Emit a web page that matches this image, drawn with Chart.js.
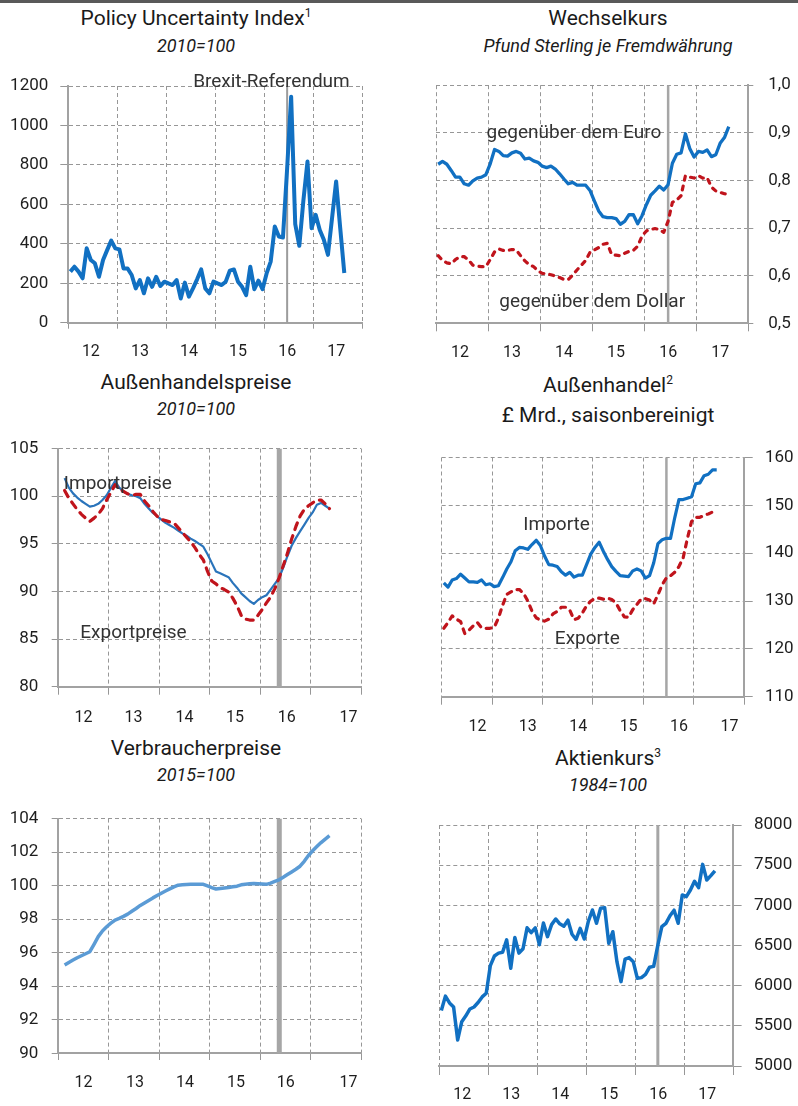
<!DOCTYPE html>
<html><head><meta charset="utf-8">
<script src="https://cdn.jsdelivr.net/npm/chart.js@4.4.1/dist/chart.umd.min.js"></script>
<style>
html,body{margin:0;padding:0;background:#fff;}
body{width:798px;height:1106px;position:relative;overflow:hidden;font-family:Roboto,"Noto Sans",sans-serif;color:#1a1a1a;}
.bar{position:absolute;left:0;top:0;width:798px;height:3px;background:#595959;}
.t{position:absolute;width:400px;text-align:center;white-space:nowrap;font-size:21px;line-height:21px;}
.s{position:absolute;width:400px;text-align:center;white-space:nowrap;font-size:18px;line-height:18px;font-style:italic;}
sup{font-size:12px;line-height:0;vertical-align:0;position:relative;top:-8px;}
canvas{position:absolute;}
</style></head><body>
<div class="bar"></div>
<div class="t" style="left:-4px;top:8px">Policy Uncertainty Index<sup>1</sup></div>
<div class="s" style="left:-4px;top:37px">2010=100</div>
<div class="t" style="left:408px;top:8px">Wechselkurs</div>
<div class="s" style="left:408px;top:37px">Pfund Sterling je Fremdwährung</div>
<div class="t" style="left:-4px;top:372px">Außenhandelspreise</div>
<div class="s" style="left:-4px;top:400px">2010=100</div>
<div class="t" style="left:408px;top:375px">Außenhandel<sup>2</sup></div>
<div class="t" style="left:408px;top:405px">£ Mrd., saisonbereinigt</div>
<div class="t" style="left:-4px;top:738px">Verbraucherpreise</div>
<div class="s" style="left:-4px;top:766px">2015=100</div>
<div class="t" style="left:408px;top:748px">Aktienkurs<sup>3</sup></div>
<div class="s" style="left:408px;top:776px">1984=100</div>
<canvas id="c1"></canvas><canvas id="c2"></canvas><canvas id="c3"></canvas>
<canvas id="c4"></canvas><canvas id="c5"></canvas><canvas id="c6"></canvas>
<script>
// ---------- data (monthly, Jan 2012 = month 0) ----------
const yearTicks = [2012, 2013, 2014, 2015, 2016, 2017, 2018];
const yearLabels = ['12', '13', '14', '15', '16', '17'];
const brexitDate = 2016.46;
const brexitDatePrices = 2016.38;

const policyUncertainty = [259,284,259,225,377,318,301,233,318,368,416,377,372,275,275,242,174,216,149,225,
  182,233,186,208,199,191,216,123,203,132,174,220,270,174,149,208,199,191,208,264,
  270,208,182,140,284,170,213,170,250,310,488,437,432,775,1146,500,390,621,817,479,
  547,470,420,344,530,716,480,252];
const policyStart = 0;

const gbpPerEuro = [0.834,0.840,0.834,0.821,0.807,0.807,0.793,0.790,0.799,0.805,0.807,0.812,0.835,0.865,0.861,0.852,0.851,0.858,0.861,0.857,
  0.845,0.847,0.841,0.838,0.830,0.827,0.830,0.824,0.814,0.803,0.793,0.796,0.790,0.790,0.790,0.779,0.757,0.736,0.724,0.722,
  0.722,0.720,0.708,0.714,0.728,0.728,0.709,0.726,0.749,0.769,0.778,0.788,0.780,0.791,0.836,0.855,0.858,0.898,0.867,0.849,
  0.861,0.859,0.864,0.850,0.854,0.878,0.890,0.913];
const gbpPerDollar = [0.642,0.632,0.627,0.625,0.634,0.640,0.640,0.633,0.622,0.620,0.619,0.619,0.634,0.650,0.656,0.653,0.653,0.655,0.654,0.642,
  0.631,0.623,0.619,0.610,0.605,0.604,0.602,0.599,0.596,0.592,0.592,0.601,0.612,0.622,0.632,0.649,0.654,0.659,0.666,0.668,
  0.644,0.643,0.642,0.647,0.651,0.653,0.662,0.683,0.694,0.697,0.699,0.697,0.691,0.714,0.754,0.759,0.768,0.810,0.807,0.805,
  0.810,0.805,0.806,0.786,0.778,0.775,0.772,0.771];
const fxStart = 0;

const importPrices = [101.9,100.9,100.3,99.86,99.5,99.2,98.9,99.0,99.2,99.6,100.1,100.85,101.6,100.9,100.5,100.25,100.1,100.0,99.8,99.2,
  98.7,98.25,97.9,97.55,97.2,96.95,96.7,96.4,96.1,95.85,95.55,95.3,95.0,94.7,93.9,93.0,92.1,91.9,91.7,91.5,
  90.9,90.4,89.8,89.4,89.0,88.7,89.1,89.4,89.6,90.2,90.8,91.4,92.5,93.7,94.8,95.6,96.3,97.0,97.7,98.3,
  99.1,99.3,99.0,98.7];
const exportPrices = [100.6,99.8,99.2,98.6,98.1,97.7,97.35,97.7,98.1,98.7,99.6,100.4,101.2,100.8,100.5,100.25,100.1,100.2,100.2,99.5,
  99.0,98.4,97.9,97.55,97.45,97.3,97.2,96.7,96.2,95.7,95.2,94.6,93.9,93.3,92.1,91.1,90.8,90.4,90.2,89.95,
  89.3,88.5,87.5,87.1,87.0,87.0,87.5,88.1,88.8,89.4,90.3,91.4,92.7,94.0,95.5,96.8,97.9,98.6,99.0,99.3,
  99.6,99.6,99.2,98.7];
const tradePricesStart = 1;

const importsBn = [133.8,132.9,134.4,134.7,135.6,134.8,134.0,134.0,133.9,134.4,133.4,133.6,133.0,133.2,134.9,136.7,138.2,140.5,141.2,141.1,
  140.8,141.8,142.7,141.6,139.4,137.6,137.5,137.2,136.1,135.4,136.0,135.0,135.4,135.4,137.6,139.8,141.2,142.3,140.4,138.7,
  137.2,136.2,135.3,135.2,135.1,136.3,136.7,136.3,134.8,135.3,138.0,142.0,142.8,143.1,143.1,147.4,151.2,151.2,151.5,151.8,
  154.5,154.7,156.2,156.5,157.4,157.4];
const exportsBn = [124.3,125.5,126.9,126.2,125.7,123.2,123.9,124.8,125.5,124.4,124.3,124.3,124.5,126.4,129.1,131.4,131.9,132.4,132.4,131.6,
  130.0,127.9,126.5,126.0,125.8,126.2,127.3,127.8,128.7,128.7,128.1,126.1,126.4,127.5,129.0,130.0,130.5,130.6,130.4,130.6,
  130.3,129.6,128.0,126.7,126.6,128.2,129.3,130.4,130.5,130.2,129.4,131.3,133.4,134.8,135.3,136.0,137.2,139.0,143.0,146.6,
  147.5,147.5,147.9,148.2,148.6,149.0];
const tradeStart = 0;

const consumerPrices = [95.27,95.42,95.56,95.7,95.82,95.94,96.06,96.5,96.96,97.3,97.55,97.76,97.95,98.05,98.17,98.3,98.47,98.64,98.82,98.97,
  99.12,99.27,99.41,99.55,99.68,99.81,99.93,100.03,100.05,100.07,100.08,100.08,100.08,100.08,99.98,99.88,99.8,99.83,99.86,99.89,
  99.93,99.97,100.05,100.09,100.11,100.13,100.12,100.1,100.08,100.15,100.25,100.35,100.5,100.66,100.82,100.98,101.16,101.45,101.8,102.08,
  102.33,102.57,102.78,102.98];
const cpiStart = 1;

const shareIndex = [5690,5870,5785,5735,5324,5552,5625,5710,5735,5790,5860,5905,6250,6370,6405,6415,6570,6216,6600,6405,
  6460,6720,6660,6720,6510,6780,6610,6760,6830,6770,6740,6815,6640,6575,6714,6581,6800,6942,6776,6963,
  6971,6527,6672,6299,6050,6330,6349,6299,6091,6100,6140,6230,6240,6500,6735,6776,6870,6940,6776,7130,
  7108,7191,7300,7220,7510,7315,7370,7430];
const shareStart = 0;

// ---------- helpers ----------
const YEAR0 = 2012;
function monthly(values, start) {
  return values.map((v, i) => ({ x: YEAR0 + (start + i + 0.5) / 12, y: v }));
}
function marker(date, lo, hi, width, color) {
  return { data: [{ x: date, y: lo }, { x: date, y: hi }], borderColor: color, borderWidth: width,
    pointRadius: 0, order: 10, fill: false };
}
function series(values, start, color, width, dash) {
  return { data: monthly(values, start), borderColor: color, borderWidth: width, borderDash: dash || [],
    borderCapStyle: dash ? 'round' : 'butt',
    pointRadius: 0, tension: 0, fill: false, borderJoinStyle: 'round', order: 1 };
}

Chart.defaults.font.family = 'Roboto, "Noto Sans", sans-serif';
const GRID = '#979797', AXIS = '#a2a2a2', TXT = '#1e1e1e', NOTE = '#333333';
const BLUE = '#1170c2', RED = '#c0141c';

const notesPlugin = {
  id: 'notes',
  afterDatasetsDraw(chart, args, opts) {
    const { ctx } = chart, xs = chart.scales.x, ys = chart.scales.y;
    (opts.items || []).forEach(n => {
      ctx.save();
      ctx.font = '19px Roboto, "Noto Sans", sans-serif';
      ctx.fillStyle = NOTE;
      ctx.textAlign = 'center';
      ctx.textBaseline = 'alphabetic';
      ctx.fillText(n.text, xs.getPixelForValue(n.x), ys.getPixelForValue(n.y));
      ctx.restore();
    });
  }
};

function buildChart(id, g, yCfg, datasets, xLabelPos, notes) {
  const canvas = document.getElementById(id);
  canvas.width = g.w; canvas.height = g.h;
  canvas.style.left = g.left + 'px'; canvas.style.top = g.top + 'px';
  const cl = g.L - g.left, cr = g.R - g.left, ct = g.T - g.top, cb = g.B - g.top;
  const right = g.side === 'right';
  const xFont = 16, yFont = 17;
  const xPad = (g.xLabelY - g.top) - cb - g.xTick - xFont * 0.6;
  const isYear = v => Math.abs(v - Math.round(v)) < 1e-6;
  const tickVals = yearTicks.concat(xLabelPos).sort((a, b) => a - b);
  return new Chart(canvas, {
    type: 'line',
    data: { datasets },
    options: {
      responsive: false, animation: false, devicePixelRatio: 1, events: [],
      layout: { autoPadding: false, padding: { left: right ? cl : 0, right: right ? 0 : g.w - cr, top: ct, bottom: 0 } },
      plugins: { legend: { display: false }, tooltip: { enabled: false }, notes: { items: notes } },
      scales: {
        x: {
          type: 'linear', min: 2012, max: 2018, position: 'bottom',
          afterBuildTicks: s => { s.ticks = tickVals.map(v => ({ value: v })); },
          afterFit: s => { s.height = g.h - cb; },
          grid: { color: GRID, lineWidth: c => (c.tick && isYear(c.tick.value)) ? 1 : 0,
            tickLength: g.xTick, tickColor: GRID, tickBorderDash: [] },
          border: { display: true, color: AXIS, width: 2, dash: [4, 3] },
          ticks: { autoSkip: false, maxRotation: 0, minRotation: 0, padding: xPad, color: TXT,
            font: { size: xFont },
            callback: v => { const k = xLabelPos.findIndex(p => Math.abs(p - v) < 1e-6); return k >= 0 ? yearLabels[k] : ''; } }
        },
        y: {
          type: 'linear', position: g.side, min: yCfg.min, max: yCfg.max,
          afterFit: s => { s.width = right ? g.w - cr : cl; },
          grid: { color: GRID, lineWidth: 1, tickLength: g.yTick, tickColor: GRID, tickBorderDash: [] },
          border: { display: true, color: AXIS, width: 2, dash: [4, 3] },
          ticks: { stepSize: yCfg.step, padding: g.yPad, color: TXT, font: { size: yFont },
            callback: yCfg.fmt || (v => String(v)) }
        }
      }
    },
    plugins: [notesPlugin]
  });
}
const mid = off => yearTicks.slice(0, 6).map(y => y + off);

// 1 Policy Uncertainty
buildChart('c1',
  { left: 0, top: 60, w: 400, h: 310, L: 68.3, R: 362.7, T: 86, B: 322.7, side: 'left', yTick: 8, yPad: 12, xTick: 6, xLabelY: 351.7 },
  { min: 0, max: 1200, step: 200 },
  [marker(brexitDate, 0, 1200, 2, '#9c9c9c'), series(policyUncertainty, policyStart, BLUE, 4)],
  mid(0.46),
  [{ text: 'Brexit-Referendum', x: 2016.14, y: 1196 }]);

// 2 Wechselkurs
buildChart('c2',
  { left: 400, top: 60, w: 398, h: 310, L: 436, R: 748.3, T: 79, B: 323.3, side: 'right', yTick: 5, yPad: 15, xTick: 8, xLabelY: 353.3 },
  { min: 0.5, max: 1.0, step: 0.1, fmt: v => v.toFixed(1).replace('.', ',') },
  [marker(brexitDate, 0.5, 1.0, 2.5, '#a6a6a6'), series(gbpPerEuro, fxStart, BLUE, 3.3), series(gbpPerDollar, fxStart, RED, 3.2, [4, 6])],
  mid(0.46),
  [{ text: 'gegenüber dem Euro', x: 2014.65, y: 0.889 }, { text: 'gegenüber dem Dollar', x: 2015.0, y: 0.534 }]);

// 3 Außenhandelspreise
buildChart('c3',
  { left: 0, top: 425, w: 400, h: 315, L: 58.3, R: 361, T: 435.7, B: 686.7, side: 'left', yTick: 6.6, yPad: 13.4, xTick: 8, xLabelY: 717.7 },
  { min: 80, max: 105, step: 5 },
  [marker(brexitDatePrices, 80, 105, 5, '#a6a6a6'), series(exportPrices, tradePricesStart, RED, 3.2, [7, 6.5]), series(importPrices, tradePricesStart, '#2a74bb', 2.2)],
  [2012.5, 2013.49, 2014.5, 2015.5, 2016.53, 2017.75],
  [{ text: 'Importpreise', x: 2013.18, y: 100.79 }, { text: 'Exportpreise', x: 2013.49, y: 85.15 }]);

// 4 Außenhandel
buildChart('c4',
  { left: 400, top: 435, w: 398, h: 305, L: 441.7, R: 744, T: 447.7, B: 696.7, side: 'right', yTick: 8.7, yPad: 12.3, xTick: 8, xLabelY: 727.3 },
  { min: 110, max: 160, step: 10 },
  [marker(brexitDate, 110, 160, 2.5, '#a6a6a6'), series(importsBn, tradeStart, BLUE, 3.2), series(exportsBn, tradeStart, RED, 3.2, [5, 6])],
  mid(0.71),
  [{ text: 'Importe', x: 2014.28, y: 144.88 }, { text: 'Exporte', x: 2014.89, y: 120.98 }]);

// 5 Verbraucherpreise
buildChart('c5',
  { left: 0, top: 795, w: 400, h: 311, L: 58.3, R: 361, T: 815, B: 1053.3, side: 'left', yTick: 6.6, yPad: 13.4, xTick: 6.7, xLabelY: 1082.7 },
  { min: 90, max: 104, step: 2 },
  [marker(brexitDatePrices, 90, 104, 5, '#a6a6a6'), series(consumerPrices, cpiStart, '#5b9bd5', 3.5)],
  [2012.5, 2013.52, 2014.51, 2015.52, 2016.51, 2017.75],
  []);

// 6 Aktienkurs
buildChart('c6',
  { left: 400, top: 800, w: 398, h: 306, L: 439.3, R: 733.3, T: 825, B: 1066, side: 'right', yTick: 8.3, yPad: 12.4, xTick: 9, xLabelY: 1095 },
  { min: 5000, max: 8000, step: 500 },
  [marker(brexitDate, 5000, 8000, 3, '#a6a6a6'), series(shareIndex, shareStart, BLUE, 3.5)],
  mid(0.47),
  []);
</script>
</body></html>
